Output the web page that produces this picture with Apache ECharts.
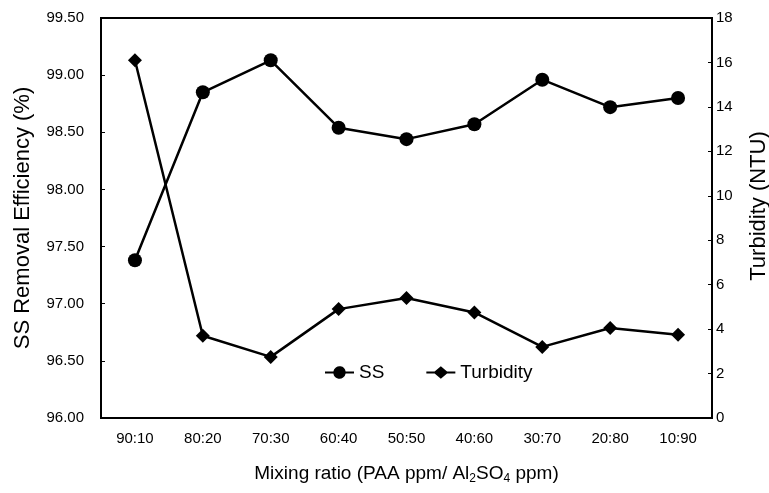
<!DOCTYPE html>
<html>
<head>
<meta charset="utf-8">
<script src="https://cdn.jsdelivr.net/npm/echarts@6/dist/echarts.min.js"></script>
<style>html,body{margin:0;padding:0;background:#fff;}#c{width:769px;height:493px;}</style>
</head>
<body>
<div id="c"></div>
<script>
const categories = ['90:10','80:20','70:30','60:40','50:50','40:60','30:70','20:80','10:90'];
const ssValues = [97.38, 98.85, 99.13, 98.54, 98.44, 98.57, 98.96, 98.72, 98.80];
const turbidityValues = [16.1, 3.7, 2.75, 4.9, 5.4, 4.75, 3.2, 4.05, 3.75];
const leftTicks = {min: 96, max: 99.5, interval: 0.5};
const rightTicks = {min: 0, max: 18, interval: 2};

const FONT = '"Liberation Sans", Arial, sans-serif';
const chart = echarts.init(document.getElementById('c'), null, {renderer: 'canvas'});
const circleIcon = 'path://M0,5 L8.08,5 A6,6 0 0 1 19.92,5 L28,5 L28,7 L19.92,7 A6,6 0 0 1 8.08,7 L0,7 Z';
const diamondIcon = 'path://M0,5 L8,5 L14,0 L20,5 L28,5 L28,7 L20,7 L14,12 L8,7 L0,7 Z';
chart.setOption({
  backgroundColor: '#fff',
  animation: false,
  textStyle: {fontFamily: FONT, color: '#000'},
  grid: {left: 101, right: 57, top: 18, bottom: 75, show: true, borderColor: '#000', borderWidth: 2,
    backgroundColor: 'transparent', containLabel: false, outerBoundsMode: 'none'},
  legend: {
    left: 320, top: 358, itemWidth: 29, itemHeight: 13, itemGap: 42,
    textStyle: {fontSize: 19, color: '#000', fontFamily: FONT},
    data: [{name: 'SS', icon: circleIcon}, {name: 'Turbidity', icon: diamondIcon}]
  },
  xAxis: {
    type: 'category', data: categories, boundaryGap: true,
    axisLine: {lineStyle: {color: '#000', width: 2}},
    axisTick: {inside: true, length: 5, lineStyle: {color: '#000', width: 1}},
    axisLabel: {fontSize: 15, color: '#000', margin: 13, fontFamily: FONT},
    name: 'Mixing ratio (PAA ppm/ Al{sub|2}SO{sub|4} ppm)',
    nameLocation: 'middle', nameGap: 45,
    nameTextStyle: {fontSize: 19, color: '#000', fontFamily: FONT,
      rich: {sub: {fontSize: 12, color: '#000', fontFamily: FONT, padding: [10, 0, 0, 0]}}}
  },
  yAxis: [{
    type: 'value', min: leftTicks.min, max: leftTicks.max, interval: leftTicks.interval,
    axisLine: {show: true, lineStyle: {color: '#000', width: 2}},
    axisTick: {show: true, inside: true, length: 4, lineStyle: {color: '#000'}},
    splitLine: {show: false},
    axisLabel: {fontSize: 15, color: '#000', margin: 17, fontFamily: FONT, formatter: v => v.toFixed(2)},
    name: 'SS Removal Efficiency (%)', nameLocation: 'middle', nameGap: 67,
    nameTextStyle: {fontSize: 22, color: '#000', fontFamily: FONT}
  }, {
    type: 'value', position: 'right', min: rightTicks.min, max: rightTicks.max, interval: rightTicks.interval,
    axisLine: {show: true, lineStyle: {color: '#000', width: 2}},
    axisTick: {show: true, inside: true, length: 4, lineStyle: {color: '#000'}},
    splitLine: {show: false},
    axisLabel: {fontSize: 15, color: '#000', margin: 4, fontFamily: FONT},
    name: 'Turbidity (NTU)', nameLocation: 'middle', nameGap: 36,
    nameTextStyle: {fontSize: 22, color: '#000', fontFamily: FONT, padding: [0, 0, 0, 24]}
  }],
  series: [{
    name: 'SS', type: 'line', yAxisIndex: 0, data: ssValues,
    symbol: 'circle', symbolSize: 14,
    lineStyle: {color: '#000', width: 2.5}, itemStyle: {color: '#000'}
  }, {
    name: 'Turbidity', type: 'line', yAxisIndex: 1, data: turbidityValues,
    symbol: 'diamond', symbolSize: 14,
    lineStyle: {color: '#000', width: 2.5}, itemStyle: {color: '#000'}
  }]
});
</script>
</body>
</html>
